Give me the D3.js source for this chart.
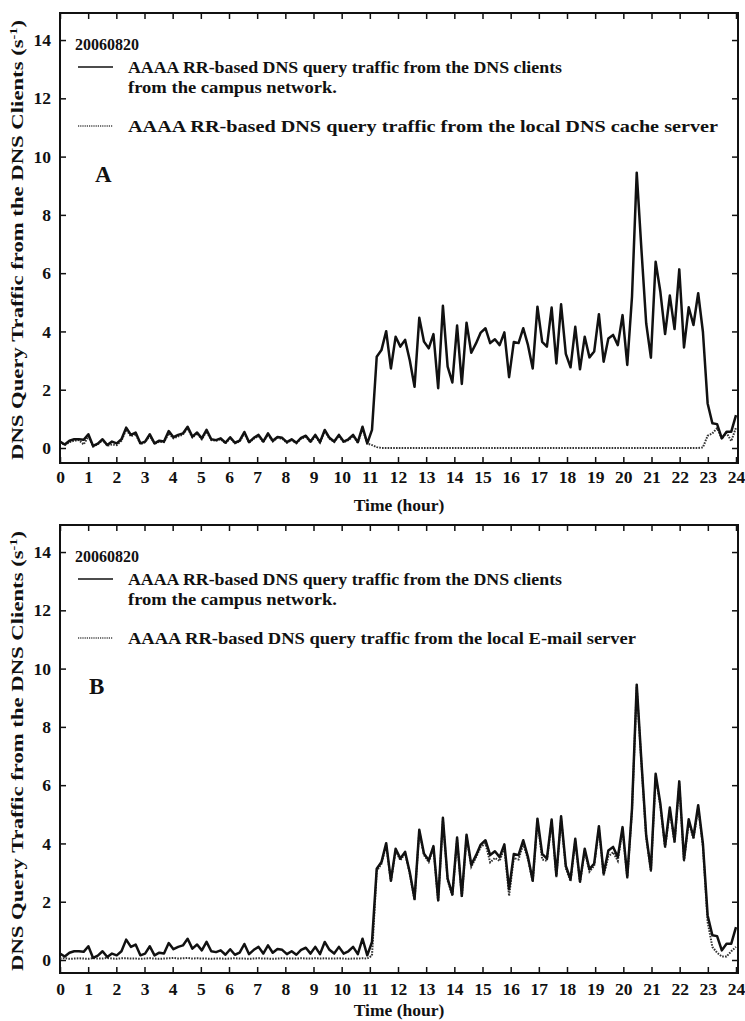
<!DOCTYPE html>
<html lang="en">
<head>
<meta charset="UTF-8">
<title>AAAA RR-based DNS query traffic</title>
<script src="https://d3js.org/d3.v7.min.js"></script>
<style>
    body { margin: 0; padding: 0; background: #fff; }
    svg { display: block; font-family: "Liberation Serif", "Times New Roman", serif; }
    .tick text { font-family: "Liberation Serif", "Times New Roman", serif; font-size: 17.5px; font-weight: bold; fill: #111; }
    .tick line { stroke: #111; stroke-width: 1.5px; }
    .domain { display: none; }
    .frame { fill: none; stroke: #111; stroke-width: 2px; }
    .solid { fill: none; stroke: #111; stroke-width: 2.5px; stroke-linejoin: round; }
    .dotted { fill: none; stroke: #333; stroke-width: 2px; stroke-dasharray: 1.6 1.2; }
    .lbl { font-weight: bold; fill: #111; }
</style>
</head>
<body>
<script>
    // 10-minute bins over one day (144 bins, plotted 0..24 h)
    const time = d3.range(144).map(i => i * 24 / 143);

    // total AAAA query traffic from the campus DNS clients
    const clients = [
        0.22, 0.12, 0.25, 0.3, 0.3, 0.28, 0.47, 0.07, 0.15, 0.3,
        0.1, 0.22, 0.16, 0.3, 0.7, 0.45, 0.53, 0.16, 0.22, 0.47,
        0.16, 0.25, 0.22, 0.58, 0.37, 0.45, 0.5, 0.73, 0.39, 0.53,
        0.33, 0.62, 0.3, 0.27, 0.33, 0.18, 0.37, 0.18, 0.25, 0.55,
        0.2, 0.35, 0.45, 0.22, 0.5, 0.25, 0.38, 0.35, 0.2, 0.3,
        0.18, 0.35, 0.42, 0.22, 0.45, 0.2, 0.62, 0.35, 0.22, 0.45,
        0.22, 0.3, 0.45, 0.2, 0.73, 0.16, 0.62, 3.13, 3.36, 4.01,
        2.73, 3.82, 3.48, 3.71, 3.0, 2.1, 4.47, 3.65, 3.42, 3.91,
        2.05, 4.88, 2.79, 2.25, 4.2, 2.2, 4.3, 3.27, 3.59, 3.96,
        4.11, 3.6, 3.73, 3.53, 3.97, 2.43, 3.64, 3.6, 4.11, 3.53,
        2.73, 4.85, 3.64, 3.48, 4.82, 2.9, 4.93, 3.23, 2.77, 4.16,
        2.7, 3.82, 3.11, 3.31, 4.59, 2.96, 3.76, 3.88, 3.53, 4.56,
        2.85, 5.19, 9.45, 6.8, 4.28, 3.1, 6.39, 5.36, 3.91, 5.23,
        4.08, 6.13, 3.45, 4.83, 4.22, 5.31, 3.99, 1.53, 0.85, 0.82,
        0.33, 0.56, 0.56, 1.13
    ];

    // from the local DNS cache server (panel A)
    const cacheServer = [
        0.2, 0.1, 0.2, 0.25, 0.27, 0.12, 0.4, 0.05, 0.13, 0.27,
        0.08, 0.12, 0.1, 0.25, 0.63, 0.4, 0.48, 0.13, 0.2, 0.42,
        0.14, 0.22, 0.2, 0.5, 0.33, 0.4, 0.46, 0.68, 0.36, 0.5,
        0.3, 0.57, 0.27, 0.25, 0.3, 0.16, 0.34, 0.16, 0.22, 0.5,
        0.18, 0.32, 0.41, 0.2, 0.46, 0.22, 0.35, 0.32, 0.18, 0.27,
        0.16, 0.32, 0.38, 0.2, 0.41, 0.18, 0.57, 0.32, 0.2, 0.41,
        0.2, 0.27, 0.41, 0.18, 0.66, 0.15, 0.1, 0.03, 0, 0,
        0, 0, 0, 0, 0, 0, 0, 0, 0, 0,
        0, 0, 0, 0, 0, 0, 0, 0, 0, 0,
        0, 0, 0, 0, 0, 0, 0, 0, 0, 0,
        0, 0, 0, 0, 0, 0, 0, 0, 0, 0,
        0, 0, 0, 0, 0, 0, 0, 0, 0, 0,
        0, 0, 0, 0, 0, 0, 0, 0, 0, 0,
        0, 0, 0, 0, 0, 0, 0.02, 0.42, 0.5, 0.68,
        0.32, 0.52, 0.24, 0.7
    ];

    // from the local E-mail server (panel B)
    const mailServer = [
        0.05, 0.06, 0.04, 0.05, 0.06, 0.05, 0.04, 0.06, 0.05, 0.05,
        0.07, 0.05, 0.04, 0.06, 0.06, 0.05, 0.05, 0.04, 0.05, 0.06,
        0.05, 0.04, 0.05, 0.06, 0.07, 0.05, 0.06, 0.07, 0.05, 0.06,
        0.05, 0.05, 0.04, 0.05, 0.05, 0.04, 0.05, 0.06, 0.05, 0.05,
        0.04, 0.05, 0.06, 0.05, 0.05, 0.04, 0.05, 0.06, 0.05, 0.05,
        0.05, 0.06, 0.05, 0.05, 0.06, 0.05, 0.06, 0.05, 0.05, 0.06,
        0.05, 0.04, 0.05, 0.05, 0.06, 0.05, 0.15, 3.05, 3.3, 3.95,
        2.68, 3.76, 3.42, 3.66, 2.95, 2.05, 4.4, 3.6, 3.36, 3.85,
        2.0, 4.82, 2.73, 2.2, 4.14, 2.15, 4.24, 3.2, 3.52, 3.88,
        4.0, 3.35, 3.5, 3.4, 3.85, 2.2, 3.5, 3.45, 3.98, 3.45,
        2.68, 4.78, 3.45, 3.4, 4.76, 2.84, 4.86, 3.15, 2.7, 4.1,
        2.64, 3.75, 3.03, 3.24, 4.52, 2.9, 3.55, 3.7, 3.4, 4.48,
        2.8, 5.12, 9.38, 6.72, 4.2, 3.03, 6.3, 5.28, 3.84, 5.15,
        4.0, 6.05, 3.38, 4.75, 4.15, 5.22, 3.9, 1.3, 0.45, 0.25,
        0.12, 0.12, 0.3, 0.45
    ];

    const hourTicks = d3.range(0, 25);
    const yTicks = d3.range(0, 15, 2);

    const panels = [
        { top: 13, bottom: 463, zero: 448, letter: 'A', letterX: 95, other: cacheServer,
          otherLabel: 'AAAA RR-based DNS query traffic from the local DNS cache server',
          otherLen: 590, xTitle: 'Time (hour)', labelPad: 8, titleY: 511 },
        { top: 525, bottom: 973, zero: 960, letter: 'B', letterX: 89, other: mailServer,
          otherLabel: 'AAAA RR-based DNS query traffic from the local E-mail server',
          otherLen: 508, xTitle: 'Time  (hour)', labelPad: 10, titleY: 1016 }
    ];

    const width = 745, height = 1021;
    const left = 60, right = 738;
    const unit = 29.14; // px per s^-1

    const svg = d3.select('body').append('svg')
        .attr('width', width)
        .attr('height', height);

    svg.append('rect').attr('width', width).attr('height', height).attr('fill', '#fff');

    const x = d3.scaleLinear().domain([0, 24]).range([left, 736]);

    panels.forEach(p => {
        const y = d3.scaleLinear().domain([0, 14]).range([p.zero, p.zero - 14 * unit]);
        const g = svg.append('g');

        // inward ticks on all four sides
        g.append('g')
            .attr('transform', `translate(0,${p.bottom})`)
            .call(d3.axisBottom(x).tickValues(hourTicks).tickSize(-6).tickPadding(p.labelPad).tickFormat(d3.format('d')));
        g.append('g')
            .attr('transform', `translate(0,${p.top})`)
            .call(d3.axisTop(x).tickValues(hourTicks).tickSize(-6).tickFormat(''));
        g.append('g')
            .attr('transform', `translate(${left},0)`)
            .call(d3.axisLeft(y).tickValues(yTicks).tickSize(-6).tickPadding(9));
        g.append('g')
            .attr('transform', `translate(${right},0)`)
            .call(d3.axisRight(y).tickValues(yTicks).tickSize(-6).tickFormat(''));

        g.append('rect').attr('class', 'frame')
            .attr('x', left).attr('y', p.top)
            .attr('width', right - left).attr('height', p.bottom - p.top);

        const line = d3.line()
            .x((d, i) => x(time[i]))
            .y(d => y(d));

        g.append('path').attr('class', 'dotted').attr('d', line(p.other));
        g.append('path').attr('class', 'solid').attr('d', line(clients));

        // legend
        const ly = p.top;
        g.append('text').attr('class', 'lbl').attr('x', 75).attr('y', ly + 37)
            .style('font-size', '16px').text('20060820');
        g.append('line').attr('x1', 78).attr('x2', 113).attr('y1', ly + 54).attr('y2', ly + 54)
            .attr('stroke', '#111').attr('stroke-width', 1.6);
        g.append('text').attr('class', 'lbl').attr('x', 128).attr('y', ly + 60)
            .style('font-size', '17.5px')
            .attr('textLength', 434).attr('lengthAdjust', 'spacingAndGlyphs')
            .text('AAAA RR-based DNS query traffic from the DNS clients');
        g.append('text').attr('class', 'lbl').attr('x', 128).attr('y', ly + 80)
            .style('font-size', '17.5px')
            .attr('textLength', 209).attr('lengthAdjust', 'spacingAndGlyphs')
            .text('from the campus network.');
        g.append('line').attr('x1', 78).attr('x2', 113).attr('y1', ly + 113).attr('y2', ly + 113)
            .attr('stroke', '#444').attr('stroke-width', 1.6).attr('stroke-dasharray', '1.2 1');
        g.append('text').attr('class', 'lbl').attr('x', 128).attr('y', ly + 119)
            .style('font-size', '17.5px')
            .attr('textLength', p.otherLen).attr('lengthAdjust', 'spacingAndGlyphs')
            .text(p.otherLabel);

        g.append('text').attr('class', 'lbl').attr('x', p.letterX).attr('y', ly + 169)
            .style('font-size', '23px').text(p.letter);

        // axis titles
        g.append('text').attr('class', 'lbl')
            .attr('x', 399).attr('y', p.titleY)
            .attr('text-anchor', 'middle').style('font-size', '17.5px')
            .text(p.xTitle);

        const yt = g.append('text').attr('class', 'lbl')
            .attr('transform', `translate(23,${(p.top + p.bottom) / 2 + 2}) rotate(-90)`)
            .attr('text-anchor', 'middle').style('font-size', '17.5px')
            .attr('textLength', 440).attr('lengthAdjust', 'spacingAndGlyphs');
        yt.append('tspan').text('DNS Query Traffic from the DNS Clients (s');
        yt.append('tspan').attr('dy', -6).style('font-size', '11px').text('-1');
        yt.append('tspan').attr('dy', 6).text(')');
    });
</script>
</body>
</html>
